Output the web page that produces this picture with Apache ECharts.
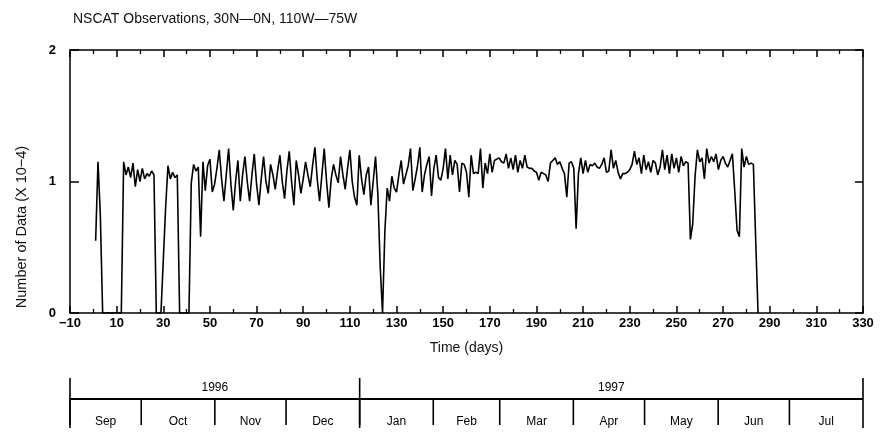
<!DOCTYPE html>
<html>
<head>
<meta charset="utf-8">
<script src="https://cdn.jsdelivr.net/npm/echarts@6/dist/echarts.min.js"></script>
<style>
  html, body { margin: 0; padding: 0; background: #fff; }
  #chart { width: 881px; height: 432px; }
</style>
</head>
<body>
<div id="chart"></div>
<script>
// Daily NSCAT observation counts (units of 10^4), starting at day 1.
const dayStart = 1;
const counts = [
  0.55, 1.15, 0.75, 0, 0, 0, 0, 0, 0, 0,          // days 1-10
  0, 0, 1.15, 1.05, 1.11, 1.03, 1.14, 0.96, 1.09, 1.00, // 11-20
  1.10, 1.02, 1.06, 1.04, 1.08, 1.05, 0, 0, 0, 0.40,    // 21-30
  0.80, 1.12, 1.02, 1.07, 1.03, 1.05, 0, 0, 0, 0,       // 31-40
  0, 0.99, 1.13, 1.08, 1.11, 0.58, 1.15, 0.93, 1.12, 1.17, // 41-50
  0.92, 0.98, 1.10, 1.24, 1.02, 0.85, 1.05, 1.25, 0.98, 0.78, // 51-60
  1.00, 1.16, 0.85, 1.05, 1.19, 1.00, 0.85, 1.05, 1.21, 0.98, // 61-70
  0.82, 1.02, 1.19, 1.00, 0.91, 1.13, 1.05, 0.94, 1.08, 1.20, // 71-80
  1.00, 0.87, 1.08, 1.23, 1.00, 0.82, 1.16, 1.05, 0.91, 1.02, // 81-90
  1.15, 1.05, 0.96, 1.12, 1.26, 1.02, 0.85, 1.05, 1.25, 1.00, // 91-100
  0.80, 1.02, 1.13, 1.05, 0.99, 1.19, 1.05, 0.94, 1.10, 1.24, // 101-110
  1.00, 0.88, 0.82, 1.20, 1.02, 0.90, 1.05, 1.11, 0.82, 1.00, // 111-120
  1.19, 0.90, 0.35, 0, 0.62, 0.95, 0.85, 1.04, 0.95, 0.92,    // 121-130
  1.05, 1.16, 0.98, 1.05, 1.12, 1.25, 0.93, 1.02, 1.12, 1.26, // 131-140
  0.92, 1.05, 1.13, 1.19, 0.89, 1.10, 1.20, 1.03, 1.01, 1.10, // 141-150
  1.25, 1.02, 1.20, 1.05, 1.16, 1.13, 0.92, 1.14, 1.13, 1.07, // 151-160
  0.88, 1.20, 1.06, 1.07, 1.06, 1.25, 0.95, 1.14, 1.06, 1.21, // 161-170
  1.07, 1.16, 1.17, 1.18, 1.15, 1.14, 1.21, 1.10, 1.18, 1.09, // 171-180
  1.20, 1.07, 1.16, 1.10, 1.20, 1.11, 1.10, 1.10, 1.08, 1.07, // 181-190
  1.01, 1.07, 1.06, 1.05, 1.00, 1.14, 1.16, 1.18, 1.13, 1.15, // 191-200
  1.10, 1.06, 0.88, 1.14, 1.15, 1.10, 0.64, 1.06, 1.18, 1.06, // 201-210
  1.16, 1.07, 1.13, 1.12, 1.14, 1.11, 1.10, 1.13, 1.18, 1.07, // 211-220
  1.08, 1.24, 1.10, 1.16, 1.07, 1.02, 1.06, 1.06, 1.07, 1.09, // 221-230
  1.13, 1.23, 1.13, 1.18, 1.06, 1.20, 1.09, 1.15, 1.07, 1.16, // 231-240
  1.14, 1.05, 1.11, 1.24, 1.09, 1.20, 1.06, 1.21, 1.10, 1.18, // 241-250
  1.07, 1.19, 1.12, 1.15, 1.14, 0.56, 0.68, 1.04, 1.24, 1.15, // 251-260
  1.18, 1.02, 1.25, 1.14, 1.19, 1.15, 1.21, 1.09, 1.16, 1.19, // 261-270
  1.14, 1.11, 1.16, 1.21, 0.93, 0.63, 0.58, 1.25, 1.11, 1.19, // 271-280
  1.13, 1.14, 1.13, 0.55, 0                                    // 281-285
];

// Axis ranges and ticks
const xMin = -10, xMax = 330, xStep = 20;
const yMin = 0, yMax = 2, yStep = 1;

// Calendar strip beneath the time axis
const monthNames = ['Sep', 'Oct', 'Nov', 'Dec', 'Jan', 'Feb', 'Mar', 'Apr', 'May', 'Jun', 'Jul'];
const monthStarts = ['1996-09-01', '1996-10-01', '1996-11-01', '1996-12-01', '1997-01-01',
  '1997-02-01', '1997-03-01', '1997-04-01', '1997-05-01', '1997-06-01', '1997-07-01', '1997-08-01'];
const yearNames = ['1996', '1997'];
const yearStarts = ['1996-09-01', '1997-01-01', '1997-08-01'];

const toTime = s => new Date(s + 'T00:00:00').getTime();
const FONT = '"Liberation Sans", Arial, sans-serif';

const seriesData = counts.map((v, i) => [dayStart + i, v]);

const monthItems = monthNames.map((n, i) => [toTime(monthStarts[i]), toTime(monthStarts[i + 1]), n]);
const yearItems = yearNames.map((n, i) => [toTime(yearStarts[i]), toTime(yearStarts[i + 1]), n]);

const minusFmt = v => (v < 0 ? '\u2212' + (-v) : String(v));

const chart = echarts.init(document.getElementById('chart'), null, { renderer: 'canvas' });

const stripLine = { stroke: '#000', lineWidth: 1.6 };
const frameLine = { show: true, onZero: false, lineStyle: { color: '#000', width: 1.5 } };

chart.setOption({
  animation: false,
  backgroundColor: '#fff',
  title: {
    text: 'NSCAT Observations, 30N\u20140N, 110W\u201475W',
    left: 68, top: 7,
    textStyle: { fontFamily: FONT, fontSize: 14, fontWeight: 'normal', color: '#111' }
  },
  grid: [
    { left: 70, right: 18, top: 50, height: 263 },
    { left: 70, right: 18, top: 378, height: 50 }
  ],
  xAxis: [
    {
      gridIndex: 0, type: 'value', min: xMin, max: xMax, interval: xStep, position: 'bottom',
      name: 'Time (days)', nameLocation: 'middle', nameGap: 28,
      nameTextStyle: { fontFamily: FONT, fontSize: 14, color: '#111' },
      axisLine: frameLine,
      axisTick: { show: true, inside: true, length: 7, lineStyle: { color: '#000', width: 1.5 } },
      minorTick: { show: true, splitNumber: 2, length: 4, lineStyle: { color: '#000', width: 1.3 } },
      axisLabel: { margin: 4, fontFamily: FONT, fontSize: 13, fontWeight: 'bold', color: '#000', formatter: minusFmt },
      splitLine: { show: false }
    },
    {
      gridIndex: 0, type: 'value', min: xMin, max: xMax, interval: xStep, position: 'top',
      axisLine: frameLine,
      axisTick: { show: true, inside: true, length: 7, lineStyle: { color: '#000', width: 1.5 } },
      minorTick: { show: true, splitNumber: 2, length: 4, lineStyle: { color: '#000', width: 1.3 } },
      axisLabel: { show: false },
      splitLine: { show: false }
    },
    {
      gridIndex: 1, type: 'time', min: toTime(yearStarts[0]), max: toTime(yearStarts[yearStarts.length - 1]),
      show: false
    }
  ],
  yAxis: [
    {
      gridIndex: 0, type: 'value', min: yMin, max: yMax, interval: yStep, position: 'left',
      axisLine: frameLine,
      axisTick: { show: true, inside: true, length: 9, lineStyle: { color: '#000', width: 1.5 } },
      axisLabel: { margin: 14, fontFamily: FONT, fontSize: 13, fontWeight: 'bold', color: '#000' },
      splitLine: { show: false }
    },
    {
      gridIndex: 0, type: 'value', min: yMin, max: yMax, interval: yStep, position: 'right',
      axisLine: frameLine,
      axisTick: { show: true, inside: true, length: 8, lineStyle: { color: '#000', width: 1.5 } },
      axisLabel: { show: false },
      splitLine: { show: false }
    },
    { gridIndex: 1, type: 'value', min: 0, max: 50, inverse: true, show: false }
  ],
  graphic: [
    {
      type: 'text', x: 22, y: 227, rotation: Math.PI / 2,
      style: {
        text: 'Number of Data (X 10\u22124)', fontFamily: FONT, fontSize: 14.5, fill: '#111',
        textAlign: 'center', textVerticalAlign: 'middle'
      }
    }
  ],
  series: [
    {
      type: 'line', xAxisIndex: 0, yAxisIndex: 0, data: seriesData,
      showSymbol: false, symbol: 'none',
      lineStyle: { color: '#000', width: 1.6 }, z: 3
    },
    {
      // month cells: divider at each month start, name centred in the cell
      type: 'custom', xAxisIndex: 2, yAxisIndex: 2, data: monthItems,
      encode: { x: [0, 1] },
      renderItem: (params, api) => {
        const a = api.coord([api.value(0), 21]);
        const b = api.coord([api.value(1), 21]);
        const bottom = api.coord([api.value(0), 47]);
        const lbl = api.coord([api.value(0), 44]);
        return {
          type: 'group',
          children: [
            { type: 'line', shape: { x1: a[0], y1: a[1], x2: bottom[0], y2: bottom[1] }, style: stripLine },
            {
              type: 'text', x: (a[0] + b[0]) / 2, y: lbl[1],
              style: { text: monthItems[params.dataIndex][2], fontFamily: FONT, fontSize: 12,
                fill: '#000', textAlign: 'center', textVerticalAlign: 'middle' }
            }
          ]
        };
      }
    },
    {
      // year cells: full-height divider, horizontal rule, year name on top
      type: 'custom', xAxisIndex: 2, yAxisIndex: 2, data: yearItems,
      encode: { x: [0, 1] },
      renderItem: (params, api) => {
        const top = api.coord([api.value(0), 0]);
        const bot = api.coord([api.value(0), 50]);
        const ra = api.coord([api.value(0), 21]);
        const rb = api.coord([api.value(1), 21]);
        const lbl = api.coord([api.value(0), 10]);
        const children = [
          { type: 'line', shape: { x1: top[0], y1: top[1], x2: bot[0], y2: bot[1] }, style: stripLine },
          { type: 'line', shape: { x1: ra[0], y1: ra[1], x2: rb[0], y2: rb[1] }, style: { stroke: '#000', lineWidth: 2 } },
          {
            type: 'text', x: (ra[0] + rb[0]) / 2, y: lbl[1],
            style: { text: yearItems[params.dataIndex][2], fontFamily: FONT, fontSize: 12,
              fill: '#000', textAlign: 'center', textVerticalAlign: 'middle' }
          }
        ];
        if (params.dataIndex === yearItems.length - 1) {
          const et = api.coord([api.value(1), 0]);
          const eb = api.coord([api.value(1), 50]);
          children.push({ type: 'line', shape: { x1: et[0], y1: et[1], x2: eb[0], y2: eb[1] }, style: stripLine });
        }
        return { type: 'group', children };
      }
    }
  ]
});
</script>
</body>
</html>
